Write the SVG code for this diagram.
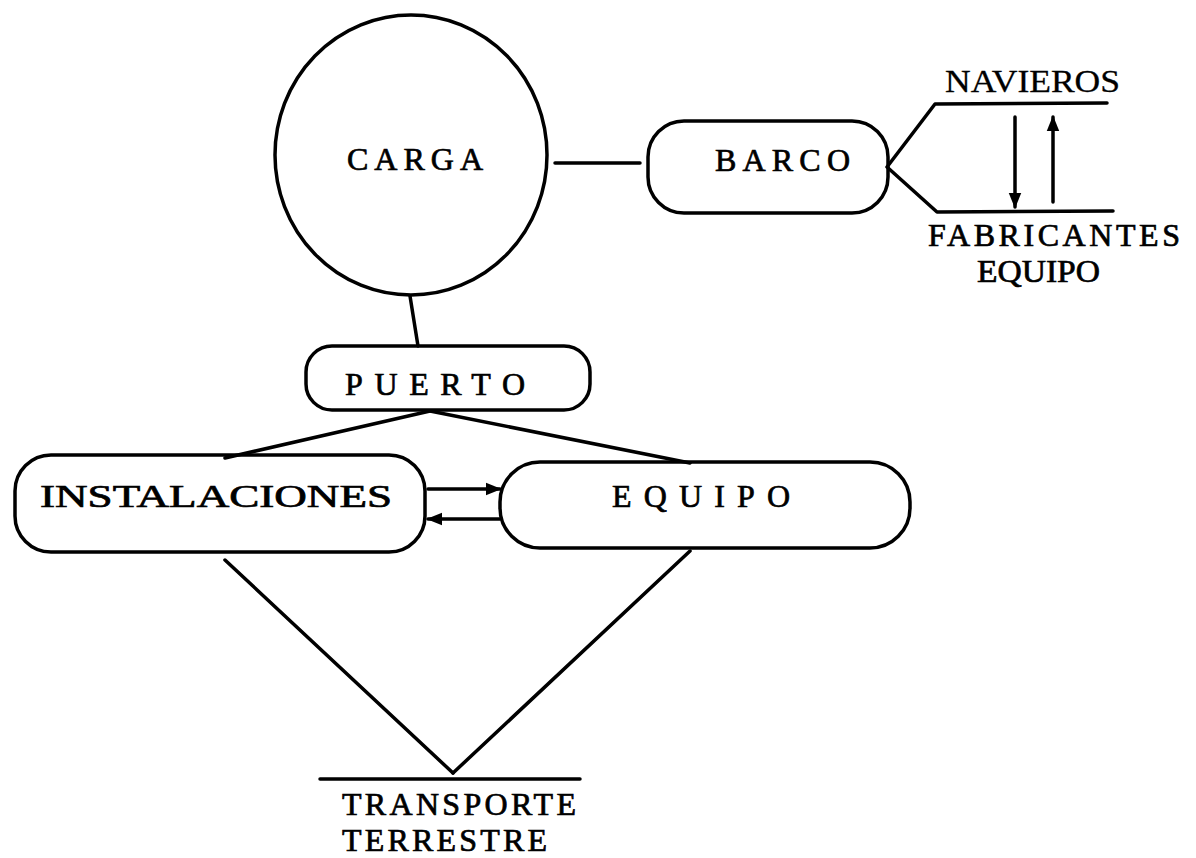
<svg xmlns="http://www.w3.org/2000/svg" width="1196" height="858" viewBox="0 0 1196 858">
<style>
.s{fill:none;stroke:#000;stroke-width:3.5;stroke-linecap:round;stroke-linejoin:round}
.t{font-family:"Liberation Serif","Times New Roman",serif;font-size:32px;fill:#000;stroke:#000;stroke-width:0.7}
</style>
<defs>
<marker id="ah" viewBox="0 0 10 10" refX="9" refY="5" markerWidth="4.5" markerHeight="4.5" orient="auto" markerUnits="strokeWidth">
<path d="M0,1 L10,5 L0,9 Z" fill="#000"/>
</marker>
</defs>
<rect width="1196" height="858" fill="#fff"/>
<g id="connectors">
<line class="s" x1="555" y1="163" x2="640" y2="163"/>
<line class="s" x1="410" y1="296" x2="418" y2="346"/>
<line class="s" x1="430" y1="411" x2="225" y2="458"/>
<line class="s" x1="430" y1="411" x2="690" y2="463"/>
<line class="s" x1="428" y1="489" x2="500" y2="489" marker-end="url(#ah)"/>
<line class="s" x1="500" y1="519" x2="428" y2="519" marker-end="url(#ah)"/>
<line class="s" x1="225" y1="560" x2="453" y2="773"/>
<line class="s" x1="690" y1="551" x2="453" y2="773"/>
<line class="s" x1="1015" y1="117" x2="1015" y2="207" marker-end="url(#ah)"/>
<line class="s" x1="1053" y1="202" x2="1053" y2="117" marker-end="url(#ah)"/>
</g>
<g id="carga">
<ellipse class="s" cx="411" cy="155" rx="136" ry="140"/>
<text class="t" x="347" y="170" textLength="136" lengthAdjust="spacing">CARGA</text>
</g>
<g id="barco">
<rect class="s" x="648" y="121" width="240" height="92" rx="36"/>
<text class="t" x="715" y="171" textLength="135" lengthAdjust="spacing">BARCO</text>
</g>
<g id="navieros">
<polyline class="s" points="1107,103 935,104 887,167 937,212 1113,211"/>
<text class="t" x="945" y="92" textLength="175" lengthAdjust="spacingAndGlyphs" style="stroke-width:0.3">NAVIEROS</text>
</g>
<g id="fabricantes">
<text class="t" x="928" y="246" textLength="252" lengthAdjust="spacing">FABRICANTES</text>
<text class="t" x="977" y="282" textLength="123" lengthAdjust="spacingAndGlyphs">EQUIPO</text>
</g>
<g id="puerto">
<rect class="s" x="306" y="346" width="284" height="64" rx="26"/>
<text class="t" x="345" y="395" textLength="180" lengthAdjust="spacing">PUERTO</text>
</g>
<g id="instalaciones">
<rect class="s" x="15" y="455" width="410" height="97" rx="36"/>
<text class="t" x="40" y="507" textLength="352" lengthAdjust="spacingAndGlyphs">INSTALACIONES</text>
</g>
<g id="equipo">
<rect class="s" x="500" y="462" width="410" height="86" rx="40"/>
<text class="t" x="612" y="507" textLength="178" lengthAdjust="spacing">EQUIPO</text>
</g>
<g id="transporte">
<line class="s" x1="320" y1="779" x2="580" y2="779"/>
<text class="t" x="342" y="815" textLength="234" lengthAdjust="spacing">TRANSPORTE</text>
<text class="t" x="342" y="851" textLength="205" lengthAdjust="spacing">TERRESTRE</text>
</g>
</svg>
